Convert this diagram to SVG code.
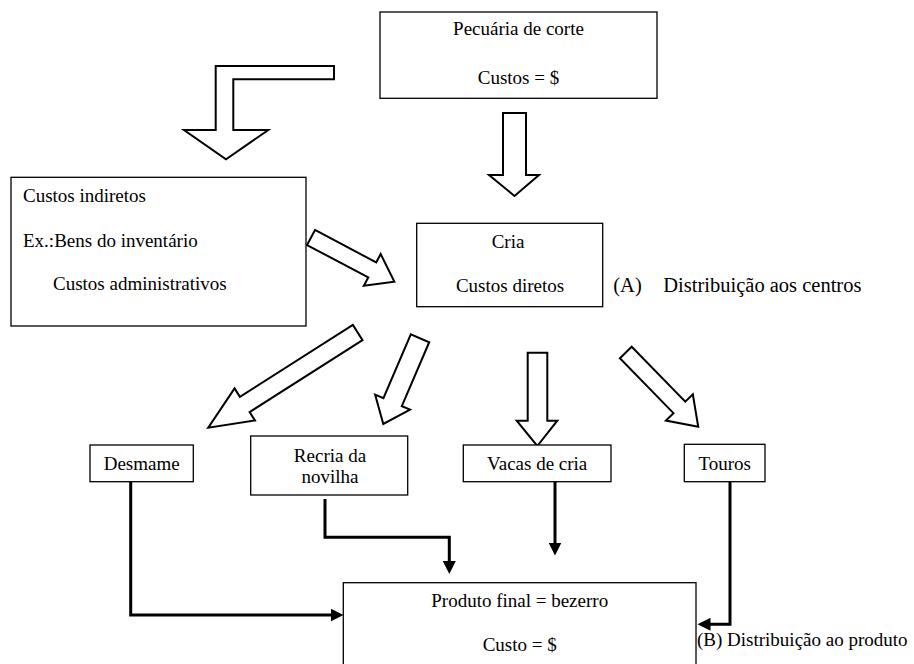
<svg xmlns="http://www.w3.org/2000/svg" width="914" height="664" viewBox="0 0 914 664">
<style>
.box{fill:#fff;stroke:#000;stroke-width:1.3}
.blk{fill:#fff;stroke:#000;stroke-width:2;stroke-linejoin:miter}
.ln{fill:none;stroke:#000;stroke-width:3;stroke-linejoin:miter}
.t{font-family:"Liberation Serif","Times New Roman",serif;font-size:19px;fill:#000}
.c{text-anchor:middle}
</style>
<defs>
<marker id="ah" markerUnits="userSpaceOnUse" markerWidth="14" markerHeight="13" refX="0.5" refY="6.5" orient="auto">
<path d="M0,0 L13,6.5 L0,13 z" fill="#000"/>
</marker>
</defs>
<rect width="914" height="664" fill="#fff"/>

<g id="connectors">
<polygon class="blk" points="334,66 215.7,66 215.7,130 184,130 226,159.3 268.3,130 233.3,130 233.3,79.3 334,79.3"/>
<polygon class="blk" points="503,113 526,113 526,175 539,175 514.5,196 489,175 503,175"/>
<polygon class="blk" transform="translate(311,237.5) rotate(27.9)" points="0,-8.5 69.3,-8.5 69.3,-18 94.3,0 69.3,18 69.3,8.5 0,8.5"/>
<polygon class="blk" transform="translate(357.7,332.5) rotate(147.5)" points="0,-9 133.9,-9 133.9,-19 177.2,0 133.9,19 133.9,9 0,9"/>
<polygon class="blk" transform="translate(420,338.3) rotate(113.2)" points="0,-10 69.5,-10 69.5,-19 93.2,0 69.5,19 69.5,10 0,10"/>
<polygon class="blk" points="527.7,352.7 547.3,352.7 547.3,420.7 557.3,420.7 537.3,446 516.7,420.7 527.7,420.7"/>
<polygon class="blk" transform="translate(625.8,352.5) rotate(45.7)" points="0,-8.25 76.7,-8.25 76.7,-18.8 103.7,0 76.7,18.8 76.7,8.25 0,8.25"/>
<path class="ln" d="M130.7,481.7 V615 H331" marker-end="url(#ah)"/>
<path class="ln" d="M325,499 V537.3 H449.3 V561.5" marker-end="url(#ah)"/>
<path class="ln" d="M555,481.7 V543" marker-end="url(#ah)"/>
<path class="ln" d="M730,481.7 V624.3 H710" marker-end="url(#ah)"/>
</g>

<g id="pecuaria">
<rect class="box" x="380" y="12" width="277" height="86.3"/>
<text class="t c" x="518.5" y="35">Pecuária de corte</text>
<text class="t c" x="518.5" y="84">Custos = $</text>
</g>

<g id="indiretos">
<rect class="box" x="11" y="177.3" width="295" height="148.7"/>
<text class="t" x="23" y="201.5">Custos indiretos</text>
<text class="t" x="23" y="247">Ex.:Bens do inventário</text>
<text class="t" x="53" y="289.5">Custos administrativos</text>
</g>

<g id="cria">
<rect class="box" x="416.7" y="223.3" width="186" height="83.4"/>
<text class="t c" x="508" y="247.5">Cria</text>
<text class="t c" x="510" y="291.5">Custos diretos</text>
</g>

<g id="labelA">
<text class="t" x="613.3" y="291.5" style="font-size:20.5px">(A)</text>
<text class="t" x="663.3" y="291.5" style="font-size:20.5px">Distribuição aos centros</text>
</g>

<g id="desmame">
<rect class="box" x="90" y="445" width="103.3" height="36.7"/>
<text class="t c" x="141.7" y="470">Desmame</text>
</g>

<g id="recria">
<rect class="box" x="250.7" y="436" width="157" height="59"/>
<text class="t c" x="330" y="461.7">Recria da</text>
<text class="t c" x="330" y="482.7">novilha</text>
</g>

<g id="vacas">
<rect class="box" x="463.3" y="445" width="147.7" height="36.7"/>
<text class="t c" x="537.2" y="470">Vacas de cria</text>
</g>

<g id="touros">
<rect class="box" x="684.3" y="444.3" width="80.7" height="37.4"/>
<text class="t c" x="724.7" y="470">Touros</text>
</g>

<g id="produto">
<rect class="box" x="343.3" y="582.7" width="352.7" height="90"/>
<text class="t c" x="519.7" y="607">Produto final = bezerro</text>
<text class="t c" x="519.7" y="651">Custo = $</text>
</g>

<g id="labelB">
<text class="t" x="697" y="646">(B) Distribuição ao produto</text>
</g>
</svg>
